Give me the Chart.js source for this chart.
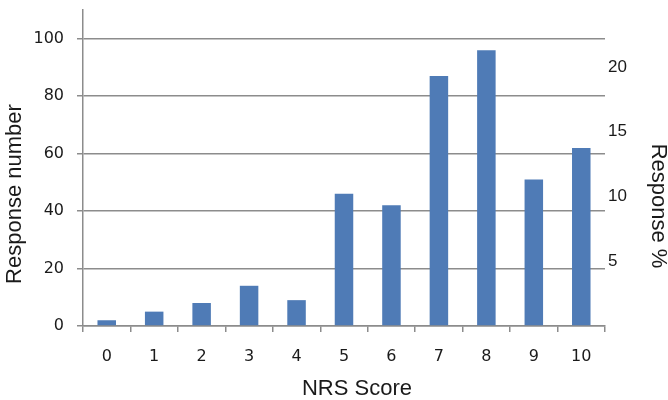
<!DOCTYPE html>
<html>
<head>
<meta charset="utf-8">
<script src="https://cdn.jsdelivr.net/npm/chart.js@4.4.1/dist/chart.umd.min.js"></script>
<style>
    body { margin: 0; background: #ffffff; }
    #contenedor { width: 668px; height: 400px; position: relative; }
</style>
</head>
<body>
<div id="contenedor"><canvas id="grafico"></canvas></div>
<script>
// datos
var nrsScores = ['0', '1', '2', '3', '4', '5', '6', '7', '8', '9', '10'];
var responseCounts = [2, 5, 8, 14, 9, 46, 42, 87, 96, 51, 62];
var leftTicks = [0, 20, 40, 60, 80, 100];
var rightTicks = [5, 10, 15, 20];
var leftMax = 110;
var rightMax = 24.4;

var GRIS = '#8c8c8c';
var TEXTO = '#1a1a1a';

// titulos de ejes, ubicados respecto al area del grafico
var titulosEjes = {
    id: 'titulosEjes',
    afterDraw: function (chart) {
        var ctx = chart.ctx;
        var area = chart.chartArea;
        ctx.save();
        ctx.fillStyle = TEXTO;
        ctx.font = '22px "Liberation Sans", Arial, sans-serif';
        ctx.textAlign = 'center';
        ctx.textBaseline = 'middle';

        ctx.fillText('NRS Score', (area.left + area.right) / 2 + 13, area.bottom + 63);

        ctx.save();
        ctx.translate(15, area.bottom - 132);
        ctx.rotate(-Math.PI / 2);
        ctx.fillText('Response number', 0, 0);
        ctx.restore();

        ctx.save();
        ctx.translate(area.right + 53, area.bottom - 120);
        ctx.rotate(Math.PI / 2);
        ctx.fillText('Response %', 0, 0);
        ctx.restore();
        ctx.restore();
    }
};

var GRAFICO = new Chart(document.getElementById('grafico'), {
    type: 'bar',
    data: {
        labels: nrsScores,
        datasets: [{
            label: 'Response number',
            data: responseCounts,
            backgroundColor: '#4f7bb6',
            borderWidth: 0,
            categoryPercentage: 1.0,
            barPercentage: 0.39,
            yAxisID: 'y'
        }]
    },
    options: {
        responsive: true,
        maintainAspectRatio: false,
        animation: false,
        layout: { padding: { top: 10, left: 0, right: 0, bottom: 0 } },
        plugins: {
            legend: { display: false },
            tooltip: { enabled: false }
        },
        scales: {
            x: {
                position: 'bottom',
                grid: {
                    offset: true,
                    drawOnChartArea: false,
                    drawTicks: true,
                    tickLength: 6,
                    color: GRIS,
                    lineWidth: 1.5
                },
                border: { display: true, color: GRIS, width: 1.5 },
                ticks: {
                    color: TEXTO,
                    padding: 15,
                    maxRotation: 0,
                    font: { family: '"DejaVu Sans", sans-serif', size: 16 }
                },
                afterFit: function (axis) { axis.height = 74; }
            },
            y: {
                position: 'left',
                min: 0,
                max: leftMax,
                afterBuildTicks: function (axis) {
                    axis.ticks = leftTicks.map(function (v) { return {value: v}; });
                },
                grid: {
                    color: GRIS,
                    lineWidth: 1.5,
                    drawTicks: true,
                    tickLength: 6
                },
                border: { display: true, color: GRIS, width: 1.5 },
                ticks: {
                    color: TEXTO,
                    padding: 13,
                    font: { family: '"DejaVu Sans", sans-serif', size: 16 }
                },
                afterFit: function (axis) {
                    axis.width = 83;
                    axis.paddingTop = 0;
                    axis.paddingBottom = 0;
                }
            },
            y2: {
                position: 'right',
                min: 0,
                max: rightMax,
                afterBuildTicks: function (axis) {
                    axis.ticks = rightTicks.map(function (v) { return {value: v}; });
                },
                grid: { display: false, drawTicks: false, drawOnChartArea: false },
                border: { display: false },
                ticks: {
                    color: TEXTO,
                    padding: 3,
                    font: { family: '"Liberation Sans", Arial, sans-serif', size: 17 }
                },
                afterFit: function (axis) {
                    axis.width = 63;
                    axis.paddingTop = 0;
                    axis.paddingBottom = 0;
                }
            }
        }
    },
    plugins: [titulosEjes]
});
</script>
</body>
</html>
